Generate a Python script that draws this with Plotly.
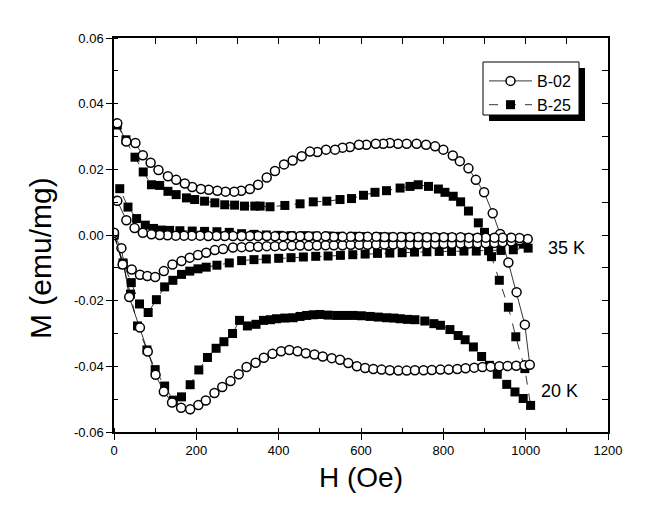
import plotly.graph_objects as go

# ---------------- data (H in Oe, M in emu/mg) ----------------
# B-02, 20 K : virgin branch (increasing field) and return branch (decreasing field)
h_b02_20k_up = [0, 18, 37, 63, 82, 101, 121, 141, 163, 185, 205, 223, 244, 263, 283, 303, 322, 344,
                364, 385, 406, 426, 446, 466, 487, 507, 529, 549, 569, 590, 610, 630, 650, 670, 691,
                711, 731, 752, 772, 793, 813, 834, 854, 875, 895, 915, 936, 956, 977, 997, 1010]
m_b02_20k_up = [0.0, -0.004, -0.0189, -0.0282, -0.0355, -0.0426, -0.0477, -0.051, -0.0526, -0.0531,
                -0.0518, -0.0504, -0.0481, -0.0463, -0.0445, -0.0424, -0.0402, -0.0389, -0.0374,
                -0.0362, -0.0354, -0.035, -0.0354, -0.036, -0.0364, -0.037, -0.0375, -0.038, -0.039,
                -0.040, -0.0405, -0.0408, -0.041, -0.0412, -0.0413, -0.0413, -0.0412, -0.0412,
                -0.0411, -0.041, -0.041, -0.0408, -0.0406, -0.0404, -0.0402, -0.0401, -0.040,
                -0.0399, -0.0398, -0.0397, -0.0395]
h_b02_20k_down = [998, 978, 958, 938, 920, 899, 879, 861, 840, 823, 800, 780, 758, 735, 711, 690, 670,
                  654, 636, 613, 595, 573, 555, 537, 515, 494, 476, 456, 434, 413, 391, 371, 350, 330,
                  309, 292, 271, 251, 230, 211, 190, 172, 151, 131, 108, 89, 70, 52, 30, 8]
m_b02_20k_down = [-0.0273, -0.0174, -0.0084, 0.0003, 0.0066, 0.013, 0.0168, 0.0203, 0.0225, 0.0242,
                  0.026, 0.027, 0.0275, 0.0278, 0.0278, 0.0278, 0.028, 0.0278, 0.0278, 0.0275, 0.0275,
                  0.0268, 0.0266, 0.026, 0.026, 0.0253, 0.0254, 0.024, 0.0227, 0.0215, 0.0195, 0.0175,
                  0.0153, 0.014, 0.0135, 0.0132, 0.0132, 0.0135, 0.0138, 0.014, 0.0146, 0.0157, 0.0168,
                  0.0179, 0.0198, 0.022, 0.0243, 0.028, 0.0285, 0.034]

# B-25, 20 K
h_b25_20k_up = [0, 22, 40, 57, 80, 100, 123, 144, 164, 185, 206, 227, 248, 267, 288, 305, 324, 345,
                363, 380, 395, 415, 435, 452, 468, 484, 500, 520, 541, 561, 581, 601, 622, 642, 662,
                680, 695, 713, 731, 755, 777, 793, 816, 836, 853, 873, 893, 912, 931, 954, 974, 994, 1012]
m_b25_20k_up = [0.0, -0.009, -0.018, -0.0277, -0.035, -0.041, -0.046, -0.0503, -0.0493, -0.0456,
                -0.0411, -0.0373, -0.0345, -0.0325, -0.030, -0.026, -0.0277, -0.0272, -0.026, -0.0258,
                -0.0255, -0.0253, -0.0252, -0.0248, -0.0245, -0.0243, -0.0242, -0.0244, -0.0245,
                -0.0245, -0.0245, -0.0246, -0.0248, -0.025, -0.0252, -0.0253, -0.0255, -0.0257,
                -0.0258, -0.0262, -0.027, -0.0275, -0.0288, -0.0306, -0.0319, -0.0341, -0.037,
                -0.0397, -0.0424, -0.0455, -0.0478, -0.0498, -0.0519]
h_b25_20k_down = [998, 976, 958, 936, 917, 900, 885, 861, 842, 824, 804, 788, 764, 739, 719, 695, 662,
                  634, 606, 577, 549, 517, 484, 452, 415, 379, 355, 342, 317, 293, 269, 245, 220, 196,
                  176, 151, 131, 111, 91, 71, 51, 29, 8]
m_b25_20k_down = [-0.0407, -0.031, -0.022, -0.0138, -0.0066, 0.0008, 0.0037, 0.0073, 0.0101, 0.0118,
                  0.013, 0.014, 0.0148, 0.0153, 0.0148, 0.0143, 0.0135, 0.013, 0.0121, 0.0111, 0.0108,
                  0.0103, 0.0101, 0.0095, 0.009, 0.0086, 0.0088, 0.0088, 0.0088, 0.0091, 0.0092,
                  0.0098, 0.0103, 0.0108, 0.0113, 0.0123, 0.0133, 0.0151, 0.0153, 0.0192, 0.0237,
                  0.029, 0.0335]

# B-02, 35 K
h_b02_35k_up = [0, 21, 43, 63, 81, 100, 121, 142, 164, 184, 204, 224, 245, 265, 289, 310, 330, 350,
                371, 391, 411, 432, 452, 473, 493, 514, 534, 555, 575, 596, 616, 637, 657, 678, 698,
                719, 739, 760, 780, 801, 821, 842, 862, 883, 903, 924, 944, 965, 985, 1005]
m_b02_35k_up = [0.0007, -0.009, -0.0105, -0.0121, -0.0125, -0.0128, -0.011, -0.009, -0.0079,
                -0.0069, -0.0061, -0.0054, -0.0046, -0.0043, -0.0038, -0.0037, -0.0036, -0.0036,
                -0.0034, -0.0034, -0.0033, -0.0033, -0.0032, -0.0033, -0.0032, -0.0031, -0.0031,
                -0.0031, -0.003, -0.003, -0.003, -0.0029, -0.0029, -0.0029, -0.0028, -0.0029,
                -0.0028, -0.0028, -0.0027, -0.0027, -0.0027, -0.0026, -0.0026, -0.0025, -0.0025,
                -0.0024, -0.0022, -0.002, -0.0016, -0.0012]
h_b02_35k_down = [985, 965, 944, 924, 903, 883, 862, 842, 821, 801, 780, 760, 739, 719, 698, 678, 657,
                  637, 616, 596, 575, 555, 534, 514, 493, 473, 452, 432, 411, 391, 371, 350, 330, 310,
                  289, 269, 249, 229, 209, 189, 170, 150, 130, 111, 91, 70, 50, 30, 8]
m_b02_35k_down = [-0.0009, -0.0008, -0.0008, -0.0008, -0.0008, -0.0008, -0.0008, -0.0007, -0.0007,
                  -0.0007, -0.0007, -0.0007, -0.0006, -0.0006, -0.0006, -0.0006, -0.0006, -0.0005,
                  -0.0005, -0.0005, -0.0005, -0.0005, -0.0005, -0.0004, -0.0004, -0.0004, -0.0004,
                  -0.0004, -0.0004, -0.0004, -0.0003, -0.0003, -0.0003, -0.0003, -0.0003, -0.0003,
                  -0.0003, -0.0003, -0.0002, -0.0002, -0.0002, -0.0002, -0.0001, 0.0, 0.0002, 0.0007,
                  0.0021, 0.0045, 0.0104]

# B-25, 35 K
h_b25_35k_up = [0, 22, 42, 62, 83, 103, 123, 143, 164, 184, 204, 224, 250, 280, 310, 340, 370, 400,
                430, 460, 490, 520, 550, 580, 610, 640, 670, 700, 730, 760, 790, 820, 850, 880, 910,
                940, 970, 1006]
m_b25_35k_up = [0.0, -0.0085, -0.0145, -0.021, -0.0236, -0.0197, -0.0158, -0.0138, -0.012, -0.011,
                -0.0103, -0.0098, -0.0092, -0.0085, -0.0078, -0.0075, -0.0073, -0.0071, -0.0069,
                -0.0067, -0.0065, -0.0064, -0.0062, -0.006, -0.0058, -0.0056, -0.0055, -0.0054,
                -0.0052, -0.0051, -0.005, -0.005, -0.0049, -0.0049, -0.0048, -0.0047, -0.0045, -0.004]
h_b25_35k_down = [994, 970, 940, 910, 880, 850, 820, 790, 760, 730, 700, 670, 640, 610, 580, 550, 520,
                  490, 460, 430, 400, 370, 340, 310, 280, 250, 220, 190, 160, 135, 115, 96, 76, 55,
                  34, 14]
m_b25_35k_down = [-0.0028, -0.002, -0.0015, -0.0012, -0.001, -0.0009, -0.0008, -0.0008, -0.0007,
                  -0.0007, -0.0006, -0.0006, -0.0005, -0.0005, -0.0004, -0.0004, -0.0003, -0.0003,
                  -0.0002, -0.0002, -0.0001, 0.0, 0.0002, 0.0004, 0.0008, 0.001, 0.0011, 0.0012,
                  0.0013, 0.0014, 0.0015, 0.002, 0.003, 0.005, 0.0085, 0.0141]

x_tick_vals = [0, 200, 400, 600, 800, 1000, 1200]
x_tick_text = ["0", "200", "400", "600", "800", "1000", "1200"]
y_tick_vals = [0.06, 0.04, 0.02, 0.0, -0.02, -0.04, -0.06]
y_tick_text = ["0.06", "0.04", "0.02", "0.00", "-0.02", "-0.04", "-0.06"]

FONT = "Liberation Sans, Arial, sans-serif"

# plot-area geometry in pixels (used to place the legend box and shadow)
W, H = 652, 530
ML, MR, MT, MB = 114, 44, 38, 98
PW, PH = W - ML - MR, H - MT - MB


def px_to_paper_x(px):
    return (px - ML) / PW


def px_to_paper_y(py):
    return (H - MB - py) / PH


circle_marker = dict(symbol="circle", size=9, color="white", line=dict(width=1.5, color="black"))
square_marker = dict(symbol="square", size=9, color="black", line=dict(width=0))

fig = go.Figure()

loops = [
    ("B-25", h_b25_20k_up + h_b25_20k_down, m_b25_20k_up + m_b25_20k_down, True),
    ("B-25", h_b25_35k_up + h_b25_35k_down, m_b25_35k_up + m_b25_35k_down, False),
    ("B-02", h_b02_20k_up + h_b02_20k_down, m_b02_20k_up + m_b02_20k_down, True),
    ("B-02", h_b02_35k_up + h_b02_35k_down, m_b02_35k_up + m_b02_35k_down, False),
]
for name, hx, my, show in loops:
    is02 = name == "B-02"
    fig.add_trace(go.Scatter(
        x=hx, y=my, mode="lines+markers", name=name,
        legendgroup=name, showlegend=show, legendrank=1 if is02 else 2,
        line=dict(color="black", width=0.8, dash="solid" if is02 else "dash"),
        marker=circle_marker if is02 else square_marker,
    ))

axis_common = dict(showgrid=False, zeroline=False, showline=True, linecolor="black",
                   linewidth=1.5, mirror=True, tickcolor="black", tickwidth=1.2,
                   tickfont=dict(family=FONT, size=13, color="black"))

fig.update_layout(
    width=W, height=H,
    margin=dict(l=ML, r=MR, t=MT, b=MB),
    paper_bgcolor="white", plot_bgcolor="white",
    font=dict(family=FONT, color="black"),
    xaxis=dict(range=[0, 1200], tickvals=x_tick_vals, ticktext=x_tick_text,
               ticks="outside", ticklen=6,
               minor=dict(ticks="inside", dtick=100, ticklen=4, tickcolor="black"),
               title=dict(text="H (Oe)", font=dict(family=FONT, size=28), standoff=10),
               **axis_common),
    yaxis=dict(range=[-0.06, 0.06], tickvals=y_tick_vals, ticktext=y_tick_text,
               ticks="outside", ticklen=6,
               minor=dict(ticks="inside", dtick=0.01, ticklen=4, tickcolor="black"),
               **axis_common),
    xaxis2=dict(range=[0, 1200], overlaying="x", side="top", anchor="y",
                ticks="inside", dtick=100, ticklen=6, tickcolor="black", tickwidth=1.2,
                showticklabels=False, showgrid=False, zeroline=False, showline=False),
    yaxis2=dict(range=[-0.06, 0.06], overlaying="y", side="right", anchor="x",
                ticks="inside", dtick=0.01, ticklen=6, tickcolor="black", tickwidth=1.2,
                showticklabels=False, showgrid=False, zeroline=False, showline=False),
    legend=dict(x=px_to_paper_x(484), y=px_to_paper_y(64), xanchor="left", yanchor="top",
                bgcolor="rgba(0,0,0,0)", borderwidth=0, tracegroupgap=0, itemwidth=43,
                font=dict(family=FONT, size=16, color="black")),
    showlegend=True,
)

fig.add_trace(go.Scatter(x=[None], y=[None], xaxis="x2", yaxis="y2", showlegend=False,
                         hoverinfo="skip"))

# legend drop shadow and frame
fig.add_shape(type="rect", xref="paper", yref="paper",
              x0=px_to_paper_x(489), x1=px_to_paper_x(585),
              y0=px_to_paper_y(121), y1=px_to_paper_y(68),
              fillcolor="black", line=dict(width=0), layer="above")
fig.add_shape(type="rect", xref="paper", yref="paper",
              x0=px_to_paper_x(483), x1=px_to_paper_x(579),
              y0=px_to_paper_y(115), y1=px_to_paper_y(62),
              fillcolor="white", line=dict(width=1, color="black"), layer="above")

fig.add_annotation(text="M (emu/mg)", xref="paper", yref="paper",
                   x=px_to_paper_x(40), y=px_to_paper_y(258), xanchor="center", yanchor="middle",
                   textangle=-90, showarrow=False, font=dict(family=FONT, size=30, color="black"))
fig.add_annotation(text="35 K", xref="x", yref="y", x=1100, y=-0.0039, showarrow=False,
                   font=dict(family=FONT, size=18, color="black"))
fig.add_annotation(text="20 K", xref="x", yref="y", x=1083, y=-0.0475, showarrow=False,
                   font=dict(family=FONT, size=18, color="black"))

fig.write_html("out.html")
